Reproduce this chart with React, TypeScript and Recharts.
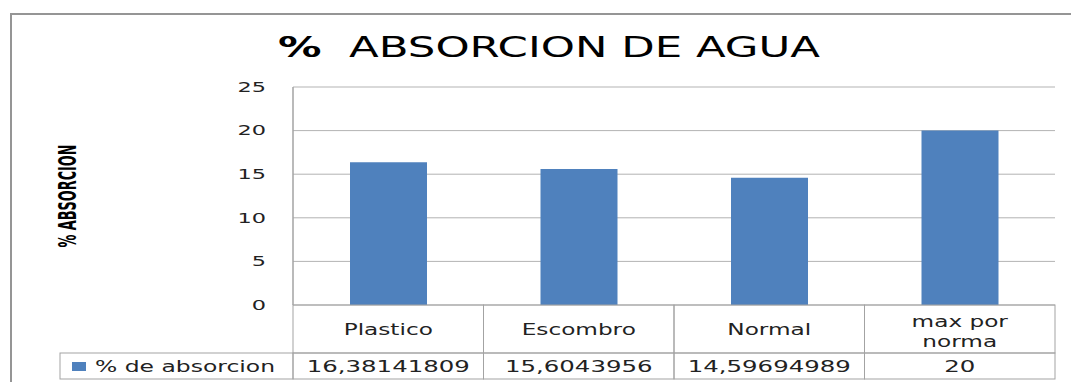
import React from "react";
import { BarChart, Bar, XAxis, YAxis, CartesianGrid } from "recharts";

const categories = ["Plastico", "Escombro", "Normal", "max por norma"];
const absorcion = [16.38141809, 15.6043956, 14.59694989, 20];
const yTicks = [0, 5, 10, 15, 20, 25];
const seriesName = "% de absorcion";
const titleMark = "%";
const titleText = "  ABSORCION DE AGUA";
const yLabel = "% ABSORCION";

const data = categories.map((name, i) => ({ name, value: absorcion[i] }));

const W = 1071;
const H = 382;
const margin = { top: 87, right: 16, bottom: 0, left: 0 };
const yAxisW = 293;
const xAxisH = 77;
const plotW = W - margin.left - margin.right - yAxisW;
const cellW = plotW / categories.length;

const border = "#a3a3a3";
const blue = "#4F81BD";
const textFont = "'DejaVu Sans', Verdana, sans-serif";
const sx = 1.45;

const fmt = (v: number) => String(v).replace(".", ",");

function wrap(label: string) {
  if (label.length > 10 && label.includes(" ")) {
    const k = label.lastIndexOf(" ");
    return [label.slice(0, k), label.slice(k + 1)];
  }
  return [label];
}

function YTick(props: any) {
  const { x, y, payload } = props;
  return (
    <text
      transform={`translate(${x},${y}) scale(1.6,1)`}
      textAnchor="end"
      dominantBaseline="central"
      fontFamily={textFont}
      fontSize={14}
      fill="#222"
    >
      {payload.value}
    </text>
  );
}

function TableTick(props: any) {
  const { x, y, payload, index } = props;
  const left = x - cellW / 2;
  const row1 = 48;
  const row2 = 26;
  const lines = wrap(String(payload.value));
  return (
    <g>
      <rect x={left} y={y} width={cellW} height={row1} fill="none" stroke={border} />
      <rect x={left} y={y + row1} width={cellW} height={row2} fill="none" stroke={border} />
      {lines.map((l, i) => (
        <text
          key={i}
          transform={`translate(${x},${
            lines.length > 1 ? y + 22 + i * 20 : y + 30
          }) scale(${sx},1)`}
          textAnchor="middle"
          fontFamily={textFont}
          fontSize={16}
          fill="#222"
        >
          {l}
        </text>
      ))}
      <text
        transform={`translate(${x},${y + row1 + 19}) scale(1.48,1)`}
        textAnchor="middle"
        fontFamily={textFont}
        fontSize={16.5}
        fill="#222"
      >
        {fmt(absorcion[index])}
      </text>
      {index === 0 && (
        <g>
          <rect
            x={60}
            y={y + row1}
            width={left - 60}
            height={row2}
            fill="none"
            stroke={border}
          />
          <rect x={72} y={y + row1 + 9} width={14} height={9} fill={blue} />
          <text
            x={95}
            y={y + row1 + 19}
            textLength={180}
            lengthAdjust="spacingAndGlyphs"
            fontFamily={textFont}
            fontSize={16.5}
            fill="#222"
          >
            {seriesName}
          </text>
        </g>
      )}
    </g>
  );
}

export default function App() {
  return (
    <div style={{ position: "absolute", left: 0, top: 0, width: W, height: H, background: "#fff", overflow: "hidden" }}>
      <div
        style={{
          position: "absolute",
          left: 10,
          top: 13,
          width: W,
          height: H,
          borderLeft: "2px solid #959595",
          borderTop: "2px solid #959595",
        }}
      />
      <div style={{ position: "absolute", left: 0, top: 0 }}>
        <BarChart width={W} height={H} data={data} margin={margin} barSize={77}>
          <CartesianGrid vertical={false} stroke="#b3b3b3" />
          <XAxis
            dataKey="name"
            height={xAxisH}
            axisLine={false}
            tickLine={false}
            tickSize={0}
            tickMargin={0}
            interval={0}
            tick={<TableTick />}
          />
          <YAxis
            width={yAxisW}
            domain={[0, 25]}
            ticks={yTicks}
            interval={0}
            tickLine={false}
            tickSize={0}
            tickMargin={27}
            axisLine={{ stroke: border, strokeWidth: 1.5 }}
            tick={<YTick />}
          />
          <Bar dataKey="value" name={seriesName} fill={blue} isAnimationActive={false} />
        </BarChart>
      </div>
      <svg
        width={W}
        height={H}
        style={{ position: "absolute", left: 0, top: 0, pointerEvents: "none" }}
      >
        <text
          x={278}
          y={57}
          textLength={542}
          lengthAdjust="spacingAndGlyphs"
          fontFamily={textFont}
          fontSize={27.5}
          fill="#000"
          style={{ whiteSpace: "pre" }}
        >
          <tspan fontWeight="bold">{titleMark}</tspan>
          {titleText}
        </text>
        <text
          transform={`translate(67,196) scale(${sx},1) rotate(-90)`}
          textAnchor="middle"
          dominantBaseline="central"
          textLength={103}
          lengthAdjust="spacingAndGlyphs"
          fontFamily="'Liberation Sans Narrow', 'DejaVu Sans Condensed', 'Liberation Sans', sans-serif"
          fontWeight="bold"
          fontSize={17}
          fill="#000"
        >
          {yLabel}
        </text>
      </svg>
    </div>
  );
}
